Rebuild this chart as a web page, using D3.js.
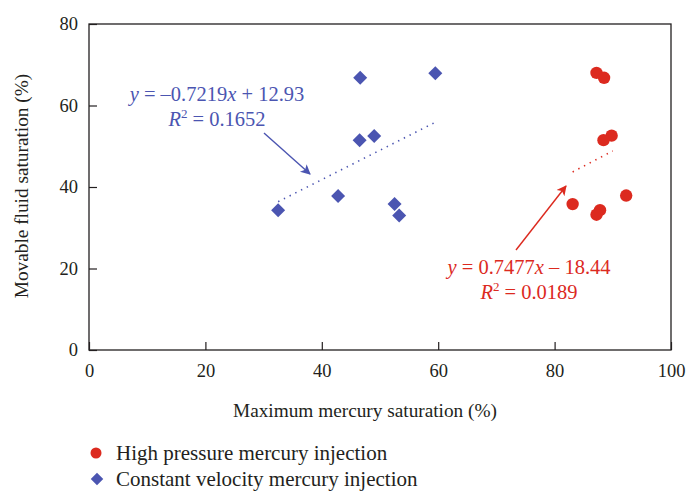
<!DOCTYPE html>
<html>
<head>
<meta charset="utf-8">
<script src="https://cdn.jsdelivr.net/npm/d3@7"></script>
<style>
  html, body { margin: 0; padding: 0; background: #fff; }
  svg text { font-family: "Liberation Serif", "Times New Roman", serif; fill: #231f20; }
</style>
</head>
<body>
<svg id="chart" width="686" height="494"></svg>
<script>
// Movable fluid saturation vs. maximum mercury saturation, two injection methods
const xTicks = [0, 20, 40, 60, 80, 100];
const yTicks = [0, 20, 40, 60, 80];

// High pressure mercury injection
const hpX = [87.2, 88.5, 89.8, 88.4, 83.1, 92.3, 87.8, 87.2];
const hpY = [68.0, 66.8, 52.6, 51.5, 35.8, 37.9, 34.3, 33.2];

// Constant velocity mercury injection
const cvX = [59.5, 46.6, 49.0, 46.5, 42.8, 32.5, 52.5, 53.3];
const cvY = [67.9, 66.8, 52.5, 51.5, 37.8, 34.3, 35.8, 33.0];

// Linear fits (slope, intercept) and the x span each dotted line covers
const cvFit = { slope: 0.7219, intercept: 12.93, from: 32.5, to: 59.5 };
const hpFit = { slope: 0.7477, intercept: -18.44, from: 83.1, to: 90.0 };

const legendLabels = ["High pressure mercury injection", "Constant velocity mercury injection"];

const RED = "#dc2a1f";
const BLUE = "#4b55b1";
const INK = "#231f20";

const svg = d3.select("#chart");
const x = d3.scaleLinear().domain([0, 100]).range([89, 671]);
const y = d3.scaleLinear().domain([0, 80]).range([350, 24]);

// frame
svg.append("rect")
  .attr("x", x(0)).attr("y", y(80))
  .attr("width", x(100) - x(0)).attr("height", y(0) - y(80))
  .attr("fill", "none").attr("stroke", INK).attr("stroke-width", 1.3);

// axes with inward ticks
const xAxis = svg.append("g").attr("transform", `translate(0,${y(0)})`)
  .call(d3.axisBottom(x).tickValues(xTicks).tickSize(-8).tickPadding(14).tickSizeOuter(0));
const yAxis = svg.append("g").attr("transform", `translate(${x(0)},0)`)
  .call(d3.axisLeft(y).tickValues(yTicks).tickSize(-8).tickPadding(11).tickSizeOuter(0));
[xAxis, yAxis].forEach(g => {
  g.select(".domain").remove();
  g.selectAll("line").attr("stroke", INK).attr("stroke-width", 1.2);
  g.selectAll("text").attr("font-size", 18.5).attr("font-family", "Liberation Serif, serif").attr("fill", INK);
});

// axis titles
svg.append("text")
  .attr("x", 365).attr("y", 417)
  .attr("text-anchor", "middle").attr("font-size", 19.3)
  .text("Maximum mercury saturation (%)");
svg.append("text")
  .attr("transform", "translate(28,186) rotate(-90)")
  .attr("text-anchor", "middle").attr("font-size", 19.3)
  .text("Movable fluid saturation (%)");

// dotted trend lines
function fitLine(fit, color) {
  svg.append("line")
    .attr("x1", x(fit.from)).attr("y1", y(fit.slope * fit.from + fit.intercept))
    .attr("x2", x(fit.to)).attr("y2", y(fit.slope * fit.to + fit.intercept))
    .attr("stroke", color).attr("stroke-width", 1.6)
    .attr("stroke-dasharray", "1.4,5");
}
fitLine(cvFit, BLUE);
fitLine(hpFit, RED);

// points
const diamond = d3.symbol().type(d3.symbolDiamond2).size(125);
svg.append("g").selectAll("path")
  .data(d3.range(cvX.length))
  .join("path")
  .attr("transform", i => `translate(${x(cvX[i])},${y(cvY[i])})`)
  .attr("d", diamond)
  .attr("fill", BLUE);

svg.append("g").selectAll("circle")
  .data(d3.range(hpX.length))
  .join("circle")
  .attr("cx", i => x(hpX[i])).attr("cy", i => y(hpY[i]))
  .attr("r", 6.2)
  .attr("fill", RED);

// arrows
const defs = svg.append("defs");
function arrowHead(id, color) {
  defs.append("marker")
    .attr("id", id).attr("viewBox", "0 0 10 10")
    .attr("refX", 9).attr("refY", 5)
    .attr("markerWidth", 14).attr("markerHeight", 10)
    .attr("markerUnits", "userSpaceOnUse")
    .attr("orient", "auto")
    .append("path").attr("d", "M0,0 L10,5 L0,10 L2.5,5 Z").attr("fill", color);
}
arrowHead("ah-blue", BLUE);
arrowHead("ah-red", RED);
svg.append("line")
  .attr("x1", 264).attr("y1", 133).attr("x2", 310).attr("y2", 174)
  .attr("stroke", BLUE).attr("stroke-width", 1.4).attr("marker-end", "url(#ah-blue)");
svg.append("line")
  .attr("x1", 516).attr("y1", 250).attr("x2", 566).attr("y2", 186)
  .attr("stroke", RED).attr("stroke-width", 1.4).attr("marker-end", "url(#ah-red)");

// equation labels
function equation(cx, by, color, a, b, sign, r2) {
  const t = svg.append("text").attr("x", cx).attr("y", by)
    .attr("text-anchor", "middle").attr("font-size", 20.5).style("fill", color);
  t.append("tspan").attr("font-style", "italic").text("y");
  t.append("tspan").text(` = ${a}`);
  t.append("tspan").attr("font-style", "italic").text("x");
  t.append("tspan").text(` ${sign} ${b}`);
  const r = svg.append("text").attr("x", cx).attr("y", by + 25)
    .attr("text-anchor", "middle").attr("font-size", 20.5).style("fill", color);
  r.append("tspan").attr("font-style", "italic").text("R");
  r.append("tspan").attr("font-size", 13).attr("dy", -8).text("2");
  r.append("tspan").attr("dy", 8).text(` = ${r2}`);
}
equation(217, 101, BLUE, "\u20130.7219", "12.93", "+", "0.1652");
equation(529, 274, RED, "0.7477", "18.44", "\u2013", "0.0189");

// legend
const lg = svg.append("g");
lg.append("circle").attr("cx", 96).attr("cy", 453).attr("r", 5.5).attr("fill", RED);
lg.append("path").attr("transform", "translate(97,479)")
  .attr("d", d3.symbol().type(d3.symbolDiamond2).size(100)).attr("fill", BLUE);
lg.selectAll("text").data(legendLabels).join("text")
  .attr("x", 116).attr("y", (d, i) => 460 + i * 26)
  .attr("font-size", 21)
  .text(d => d);
</script>
</body>
</html>
